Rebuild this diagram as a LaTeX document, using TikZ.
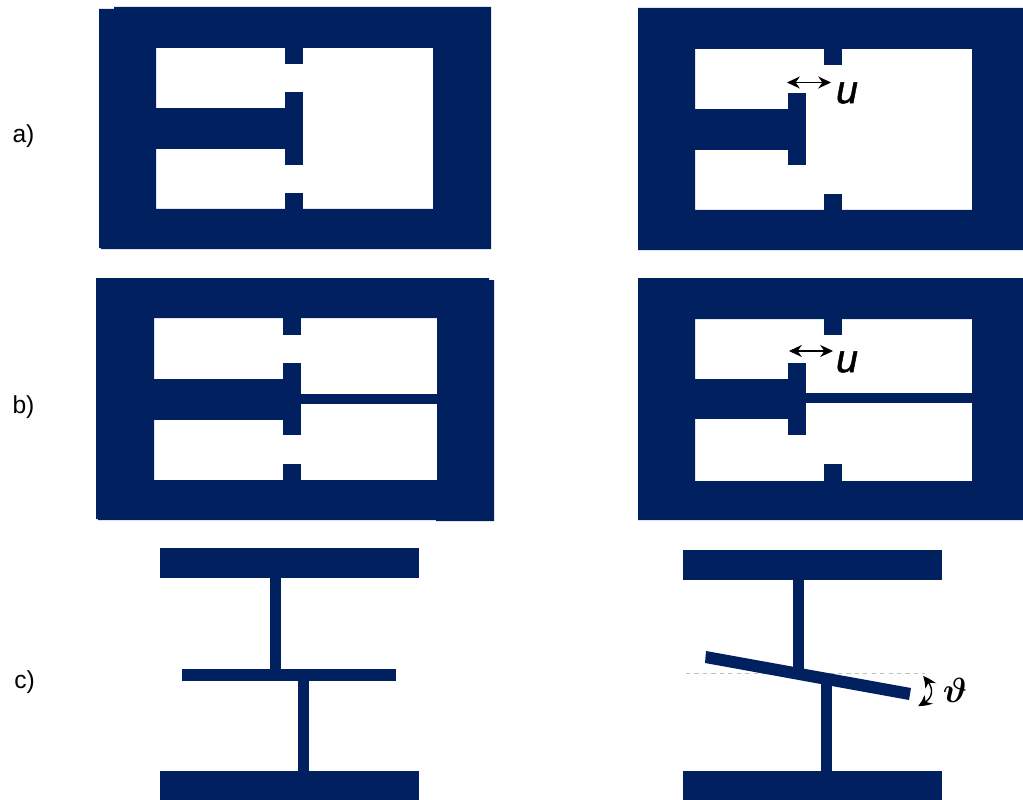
\documentclass[tikz,border=0pt]{standalone}
\usepackage{amsmath}
\usepackage{fontspec}
\setmainfont{Liberation Sans}
\newfontfamily\symbfont[ItalicFeatures={FakeBold=1.2}]{Liberation Sans}
\usetikzlibrary{arrows.meta, bending}
\definecolor{navy}{HTML}{002060}
\tikzset{
  solid/.style = {fill=navy, draw=none},
  caption/.style = {font=\fontsize{17.5}{20}\selectfont, inner sep=0pt},
  symb/.style = {font=\fontsize{28}{30}\selectfont\symbfont\itshape, inner sep=0pt},
  arr/.style = {{Stealth[length=3.2mm,width=3mm]}-{Stealth[length=3.2mm,width=3mm]}, black, line width=0.8pt},
  carr/.style = {{Stealth[length=3.2mm,width=3mm,bend]}-{Stealth[length=3.2mm,width=3mm,bend]}, black, line width=1pt}
}
\begin{document}
\begin{tikzpicture}[x=0.025cm, y=-0.025cm]
\useasboundingbox (0,0) rectangle (1023,800);

%% ── Row a: left ──────────────────────────────────────
\fill[solid, even odd rule]
  (99,9) -- (114,9) -- (114,7) -- (491,7) -- (491,249) -- (101,249) -- (101,248) -- (99,248) -- cycle
  (156,48) rectangle (433,209);
\fill[solid] (156,108) rectangle (285,149);
\fill[solid] (285,92) rectangle (303,165);
\fill[solid] (285,48) rectangle (303,64);
\fill[solid] (285,193) rectangle (303,209);

%% ── Row a: right ─────────────────────────────────────
\fill[solid, even odd rule]
  (638,8) rectangle (1023,250)
  (695,49) rectangle (972,210);
\fill[solid] (695,109) rectangle (788,150);
\fill[solid] (788,93) rectangle (806,165);
\fill[solid] (824,49) rectangle (842,65);
\fill[solid] (824,194) rectangle (842,210);

%% ── Row b: left ──────────────────────────────────────
\fill[solid, even odd rule]
  (96,278) -- (489,278) -- (489,280) -- (494,280) -- (494,521) -- (436,521) -- (436,520) -- (98,520) -- (98,519) -- (96,519) -- cycle
  (154,318) rectangle (437,480);
\fill[solid] (154,379) rectangle (283,420);
\fill[solid] (283,363) rectangle (301,435);
\fill[solid] (283,318) rectangle (301,335);
\fill[solid] (283,464) rectangle (301,480);
\fill[solid] (301,394) rectangle (437,404);

%% ── Row b: right ─────────────────────────────────────
\fill[solid, even odd rule]
  (638,278) rectangle (1023,520)
  (695,319) rectangle (972,481);
\fill[solid] (695,379) rectangle (788,419);
\fill[solid] (788,363) rectangle (806,435);
\fill[solid] (824,319) rectangle (842,335);
\fill[solid] (824,464) rectangle (842,481);
\fill[solid] (806,393) rectangle (972,403);

%% ── Row c: left ──────────────────────────────────────
\fill[solid] (160,548) rectangle (419,578);
\fill[solid] (270,578) rectangle (281,669);
\fill[solid] (182,669) rectangle (396,681);
\fill[solid] (298,681) rectangle (309,771);
\fill[solid] (160,771) rectangle (419,800);

%% ── Row c: right ─────────────────────────────────────
\fill[solid] (683,550) rectangle (942,580);
\fill[solid] (793,580) rectangle (804,672);
\fill[solid] (821,682) rectangle (832,771);
\fill[solid] (683,771) rectangle (942,800);
\draw[gray!50, dashed, line width=0.5pt] (686,673.5) -- (925,673.5);
\fill[solid] (706,651) -- (911,688) -- (909,700) -- (705,663) -- cycle;

%% ── Row labels ───────────────────────────────────────
\node[caption] (rowa) at (23.5,136) {a)};
\node[caption] (rowb) at (23.5,407) {b)};
\node[caption] (rowc) at (24.5,682) {c)};

%% ── Displacement and angle ───────────────────────────
\coordinate (ua1) at (787,82.5);
\coordinate (ua2) at (831,82.5);
\coordinate (ub1) at (789,351);
\coordinate (ub2) at (833,351);
\coordinate (th1) at (923,676);
\coordinate (th2) at (918,706);
\draw[carr] (th1) .. controls (936,688) and (934,700) .. (th2);
\draw[arr] (ua1) -- (ua2);
\draw[arr] (ub1) -- (ub2);
\node[symb] (ua) at (847,93) {u};
\node[symb] (ub) at (847,362) {u};
\node[inner sep=0pt, font=\fontsize{38}{40}\selectfont] (th) at (955,690) {$\boldsymbol{\vartheta}$};

\end{tikzpicture}
\end{document}
